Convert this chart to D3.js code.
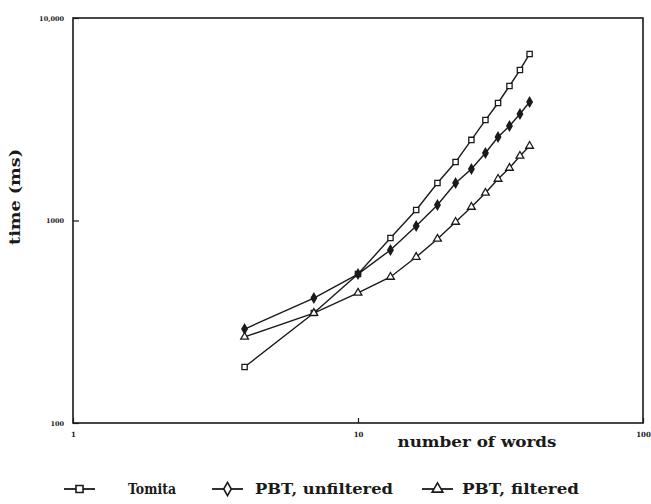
<!DOCTYPE html>
<html>
<head>
<meta charset="utf-8">
<script src="https://cdn.jsdelivr.net/npm/d3@7"></script>
<style>
  html, body { margin: 0; padding: 0; background: #fff; }
  svg { display: block; }
  text { font-family: "DejaVu Serif", "Liberation Serif", serif; fill: #1a1a1a; }
</style>
</head>
<body>
<svg id="chart" width="651" height="504"></svg>
<script>
// ---- data ----
const words = [4, 7, 10, 13, 16, 19, 22, 25, 28, 31, 34, 37, 40];
const tomita = [189, 349, 544, 820, 1127, 1531, 1944, 2500, 3134, 3805, 4616, 5535, 6643];
const pbtUnfiltered = [291, 414, 544, 715, 939, 1193, 1531, 1795, 2154, 2584, 2928, 3358, 3849];
const pbtFiltered = [266, 349, 439, 526, 660, 811, 983, 1166, 1368, 1603, 1816, 2083, 2333];
const xTicks = [1, 10, 100];
const xTickLabels = ["1", "10", "100"];
const yTicks = [100, 1000, 10000];
const yTickLabels = ["100", "1000", "10,000"];
const seriesNames = ["Tomita", "PBT, unfiltered", "PBT, filtered"];
const seriesSymbols = ["square", "diamond", "triangle"];

// ---- layout ----
const svg = d3.select("#chart");
const mLeft = 73, mRight = 643, mTop = 18, mBottom = 423;
const ink = "#1a1a1a";

const x = d3.scaleLog().domain([1, 100]).range([mLeft, mRight]);
const y = d3.scaleLog().domain([100, 10000]).range([mBottom, mTop]);

// frame
svg.append("rect")
  .attr("x", mLeft).attr("y", mTop)
  .attr("width", mRight - mLeft).attr("height", mBottom - mTop)
  .attr("fill", "none").attr("stroke", ink).attr("stroke-width", 1.6);

// axes (ticks inward, labels small)
const xAxis = d3.axisBottom(x).tickValues(xTicks)
  .tickFormat((d, i) => xTickLabels[i]).tickSize(-5).tickPadding(9);
const gx = svg.append("g").attr("transform", `translate(0,${mBottom})`).call(xAxis);
gx.select(".domain").remove();
gx.selectAll("line").attr("stroke", ink).attr("stroke-width", 1.2);
gx.selectAll("text").attr("font-size", 7).attr("font-weight", "bold")
  .attr("font-family", "DejaVu Sans, sans-serif").attr("fill", ink);

const yAxis = d3.axisLeft(y).tickValues(yTicks)
  .tickFormat((d, i) => yTickLabels[i]).tickSize(-6).tickPadding(9);
const gy = svg.append("g").attr("transform", `translate(${mLeft},0)`).call(yAxis);
gy.select(".domain").remove();
gy.selectAll("line").attr("stroke", ink).attr("stroke-width", 1.2);
gy.selectAll("text").attr("font-size", 6.5).attr("font-weight", "bold")
  .attr("font-family", "DejaVu Sans, sans-serif").attr("fill", ink);

// axis titles
svg.append("text")
  .attr("x", 477).attr("y", 447)
  .attr("text-anchor", "middle")
  .attr("font-size", 14).attr("font-weight", "bold")
  .attr("textLength", 159).attr("lengthAdjust", "spacingAndGlyphs")
  .text("number of words");

svg.append("text")
  .attr("transform", "translate(20,197) rotate(-90)")
  .attr("text-anchor", "middle")
  .attr("font-size", 14).attr("font-weight", "bold")
  .attr("textLength", 96).attr("lengthAdjust", "spacingAndGlyphs")
  .text("time (ms)");

// symbols
const symType = { square: d3.symbolSquare, diamond: d3.symbolDiamond, triangle: d3.symbolTriangle };
const symSize = { square: 28, diamond: 26, triangle: 26 };
const symFill = { square: "#fff", diamond: ink, triangle: "#fff" };

const line = d3.line().x(d => x(d[0])).y(d => y(d[1]));
const allSeries = [tomita, pbtUnfiltered, pbtFiltered];

allSeries.forEach((vals, si) => {
  const pts = words.map((w, i) => [w, vals[i]]);
  svg.append("path").datum(pts)
    .attr("d", line).attr("fill", "none")
    .attr("stroke", ink).attr("stroke-width", 1.4);
  const s = seriesSymbols[si];
  svg.append("g").selectAll("path").data(pts).join("path")
    .attr("transform", d => `translate(${x(d[0])},${y(d[1])})`)
    .attr("d", d3.symbol().type(symType[s]).size(symSize[s]))
    .attr("fill", symFill[s]).attr("stroke", ink).attr("stroke-width", 1.3);
});

// legend
const legendY = 489;
const legendItems = [
  { x1: 64, x2: 95, text: 128, w: 48 },
  { x1: 212, x2: 243, text: 255, w: 138 },
  { x1: 422, x2: 453, text: 462, w: 117 }
];
legendItems.forEach((it, i) => {
  const g = svg.append("g");
  g.append("line").attr("x1", it.x1).attr("x2", it.x2)
    .attr("y1", legendY).attr("y2", legendY)
    .attr("stroke", ink).attr("stroke-width", 1.8);
  const s = seriesSymbols[i];
  g.append("path")
    .attr("transform", `translate(${(it.x1 + it.x2) / 2},${legendY})`)
    .attr("d", d3.symbol().type(symType[s]).size(50))
    .attr("fill", s === "diamond" ? "#fff" : symFill[s]).attr("stroke", ink).attr("stroke-width", 1.6);
  g.append("text").attr("x", it.text).attr("y", legendY + 5)
    .attr("font-size", 14).attr("font-weight", "bold")
    .attr("textLength", it.w).attr("lengthAdjust", "spacingAndGlyphs")
    .text(seriesNames[i]);
});
</script>
</body>
</html>
